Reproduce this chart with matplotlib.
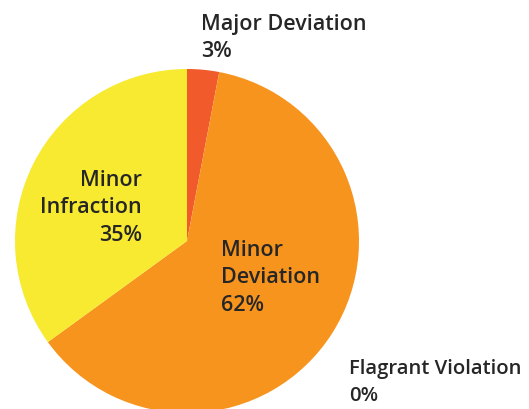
import matplotlib
matplotlib.use('Agg')
import matplotlib.pyplot as plt

categories = ['Major Deviation', 'Minor Deviation', 'Flagrant Violation', 'Minor Infraction']
values = [3, 62, 0, 35]
colors = ['#F15A2B', '#F7941E', '#C0392B', '#F7EA30']

TEXT = '#262626'
W, H = 529, 410

fig = plt.figure(figsize=(W / 100, H / 100), dpi=100)
ax = fig.add_axes([0, 0, 1, 1])

ax.pie(values, colors=colors, startangle=90, counterclock=False,
       center=(187, H - 242), radius=172, frame=True,
       wedgeprops=dict(linewidth=0))
ax.set_xlim(0, W)
ax.set_ylim(0, H)
ax.set_aspect('equal')
ax.axis('off')

font = dict(family=['Open Sans', 'DejaVu Sans'], fontsize=15.5, fontweight='semibold',
            color=TEXT, linespacing=1.4)

ax.text(201, H - 14, f'{categories[0]}\n{values[0]}%', ha='left', va='top', **font)
ax.text(221, H - 240, f'Minor\nDeviation\n{values[1]}%', ha='left', va='top', **font)
ax.text(142, H - 170, f'Minor\nInfraction\n{values[3]}%', ha='right', va='top',
        multialignment='right', **font)

# the long label sits at the right edge, so it gets a touch smaller
font_edge = dict(font, fontsize=14.6, linespacing=1.48)
ax.text(349, H - 359, f'{categories[2]}\n{values[2]}%', ha='left', va='top', **font_edge)

fig.savefig('out.png', dpi=100, facecolor='white')
